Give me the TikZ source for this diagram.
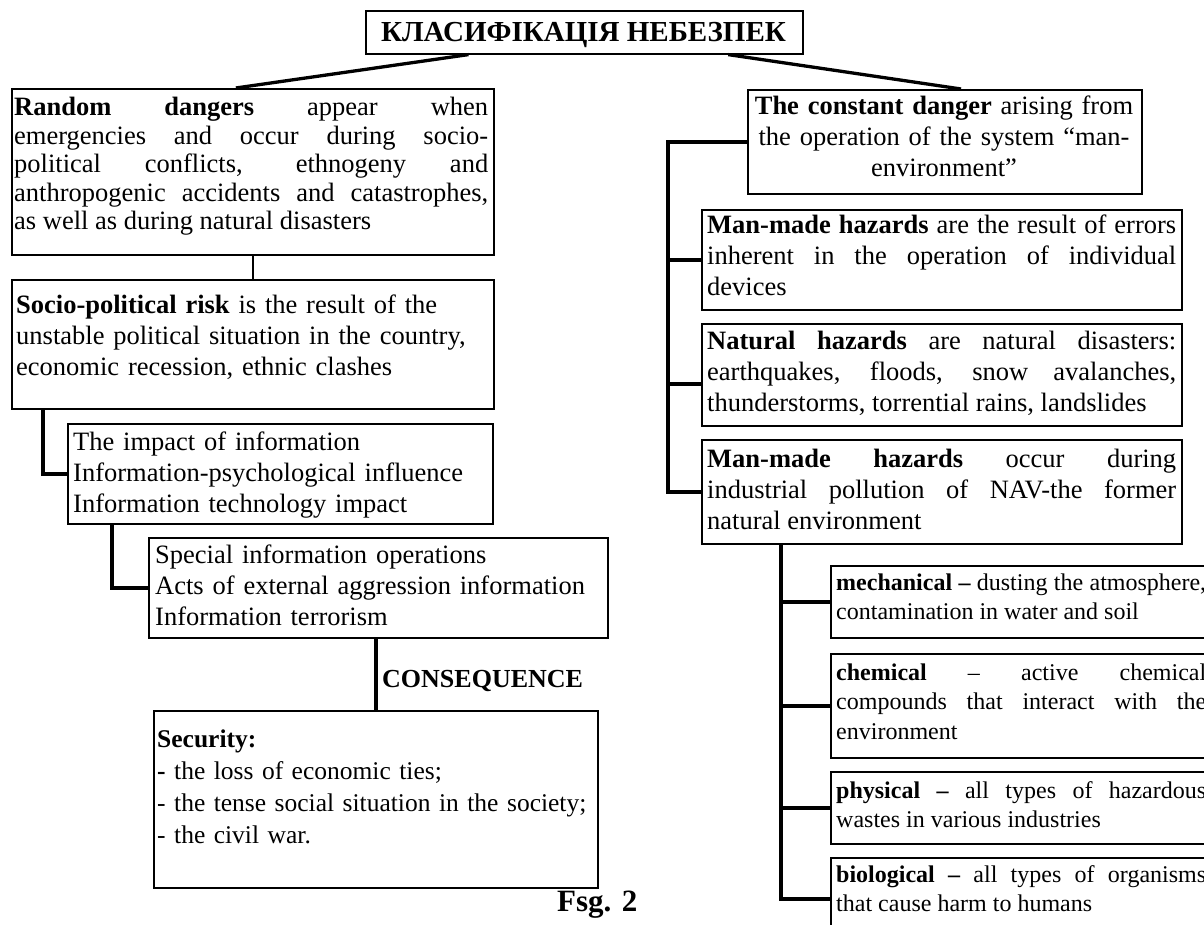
\documentclass[tikz,border=0pt]{standalone}
\usepackage{fontspec}
\setmainfont{Liberation Serif}
\usetikzlibrary{calc}
% text sizes (1pt = 1 unit of the drawing)
\newcommand\bodyfont{\fontsize{26.5}{31}\selectfont}
\newcommand\tightfont{\fontsize{26.5}{28.5}\selectfont}
\newcommand\secfont{\fontsize{25.5}{32}\selectfont}
\newcommand\smallbody{\fontsize{24}{29.5}\selectfont}
% forced line breaks: allow loose lines, never hyphenate
\tolerance=10000 \hbadness=10000 \hfuzz=30pt
\hyphenpenalty=10000 \exhyphenpenalty=10000
\begin{document}
\begin{tikzpicture}[x=1pt,y=-1pt,
  box/.style={draw, line width=1.6pt, inner sep=0pt, anchor=north west},
  txt/.style={anchor=base west, inner sep=0pt, font=\bodyfont},
  jtxt/.style={txt, align=justify, text width=#1},
  ltxt/.style={txt, align=left, text width=#1},
  stem/.style={line width=3.8pt},
  thinlink/.style={line width=1.6pt},
  spoke/.style={line width=3.3pt}]
\useasboundingbox (0,0) rectangle (1204,925);
\fill[white] (0,0) rectangle (1204,925);

% ---- boxes ----
\node[box, minimum width=437pt, minimum height=43pt]  (title) at (365,10) {};
\node[box, minimum width=482pt, minimum height=166pt] (rnd)   at (11,88) {};
\node[box, minimum width=482pt, minimum height=129pt] (socio) at (11,279) {};
\node[box, minimum width=425pt, minimum height=100pt] (info)  at (67,423) {};
\node[box, minimum width=459pt, minimum height=100pt] (ops)   at (148,537) {};
\node[box, minimum width=444pt, minimum height=177pt] (sec)   at (153,710) {};
\node[box, minimum width=394pt, minimum height=104pt] (const) at (747,89) {};
\node[box, minimum width=480pt, minimum height=100pt] (mm1)   at (701,209) {};
\node[box, minimum width=480pt, minimum height=102pt] (nat)   at (701,323) {};
\node[box, minimum width=480pt, minimum height=104pt] (mm2)   at (701,439) {};
\node[box, minimum width=390pt, minimum height=72pt]  (mech)  at (830,565) {};
\node[box, minimum width=390pt, minimum height=104pt] (chem)  at (830,653) {};
\node[box, minimum width=390pt, minimum height=72pt]  (phys)  at (830,771) {};
\node[box, minimum width=390pt, minimum height=83pt]  (bio)   at (830,857) {};

% ---- texts ----
\node[anchor=base, inner sep=0pt, font=\fontsize{29}{32}\selectfont\bfseries] (titletext)
  at (583.5,42) {КЛАСИФІКАЦІЯ НЕБЕЗПЕК};

\node[jtxt=474pt, font=\tightfont] (rndtext) at (14,116)
  {\textbf{Random dangers} appear when\linebreak
   emergencies and occur during socio-\linebreak
   political conflicts, ethnogeny and\linebreak
   anthropogenic accidents and catastrophes,\linebreak
   as well as during natural disasters};

\node[ltxt=474pt] (sociotext) at (16,313)
  {\textbf{Socio-political risk} is the result of the\\
   unstable political situation in the country,\\
   economic recession, ethnic clashes};

\node[ltxt=416pt] (infotext) at (73,450)
  {The impact of information\\
   Information-psychological influence\\
   Information technology impact};

\node[ltxt=450pt] (opstext) at (155,563)
  {Special information operations\\
   Acts of external aggression information\\
   Information terrorism};

\node[ltxt=470pt, font=\secfont] (sectext) at (157,747)
  {\textbf{Security:}\\
   \textbf{-} the loss of economic ties;\\
   - the tense social situation in the society;\\
   - the civil war.};

\node[anchor=base west, inner sep=0pt, font=\fontsize{26}{30}\selectfont\bfseries] (conseq)
  at (382,687) {CONSEQUENCE};

\node[anchor=base west, inner sep=0pt, font=\fontsize{31}{34}\selectfont\bfseries] (figlabel)
  at (557,911) {Fsg. 2};

\node[anchor=base, inner sep=0pt, font=\bodyfont, align=center, text width=390pt] (consttext)
  at (944,115)
  {\textbf{The constant danger} arising from\\
   the operation of the system “man-\\
   environment”};

\node[jtxt=469pt] (mm1text) at (707,234)
  {\textbf{Man-made hazards} are the result of errors\linebreak
   inherent in the operation of individual\linebreak
   devices};

\node[jtxt=469pt] (nattext) at (707,349)
  {\textbf{Natural hazards} are natural disasters:\linebreak
   earthquakes, floods, snow avalanches,\linebreak
   thunderstorms, torrential rains, landslides};

\node[jtxt=469pt] (mm2text) at (707,467)
  {\textbf{Man-made hazards} occur during\linebreak
   industrial pollution of NAV-the former\linebreak
   natural environment};

\node[jtxt=370pt, font=\smallbody] (mechtext) at (836,590)
  {\textbf{mechanical –} dusting the atmosphere,\linebreak
   contamination in water and soil};

\node[jtxt=370pt, font=\smallbody] (chemtext) at (836,680)
  {\textbf{chemical} – active chemical\linebreak
   compounds that interact with the\linebreak
   environment};

\node[jtxt=370pt, font=\smallbody] (phystext) at (836,798)
  {\textbf{physical –} all types of hazardous\linebreak
   wastes in various industries};

\node[jtxt=370pt, font=\smallbody] (biotext) at (836,882)
  {\textbf{biological –} all types of organisms\linebreak
   that cause harm to humans};

% ---- connectors: left branch ----
\draw[spoke] ($(title.south west)!0.236!(title.south east)$) -- ($(rnd.north west)!0.465!(rnd.north east)$);
\draw[thinlink] (rnd.south) -- (socio.north);
\draw[stem] ($(socio.south west)+(32,0)$) |- (info.west);
\draw[stem] ($(info.south west)+(45,0)$) |- (ops.west);
\draw[stem] (ops.south -| sec.north) -- (sec.north);

% ---- connectors: right branch ----
\draw[spoke] ($(title.south west)!0.828!(title.south east)$) -- ($(const.north west)!0.541!(const.north east)$);
\coordinate (rtrunk) at ($(const.west)+(-79,0)$);
\coordinate (natin) at ($(nat.west)+(0,9)$);
\draw[stem] (const.west) -- (rtrunk) |- (mm2.west);
\draw[stem] (rtrunk |- mm1.west) -- (mm1.west);
\draw[stem] (rtrunk |- natin) -- (natin);

\coordinate (strunk) at ($(mm2.south west)+(80,0)$);
\draw[stem] (strunk) |- (bio.west);
\draw[stem] (strunk |- mech.west) -- (mech.west);
\draw[stem] (strunk |- chem.west) -- (chem.west);
\draw[stem] (strunk |- phys.west) -- (phys.west);
\end{tikzpicture}
\end{document}
